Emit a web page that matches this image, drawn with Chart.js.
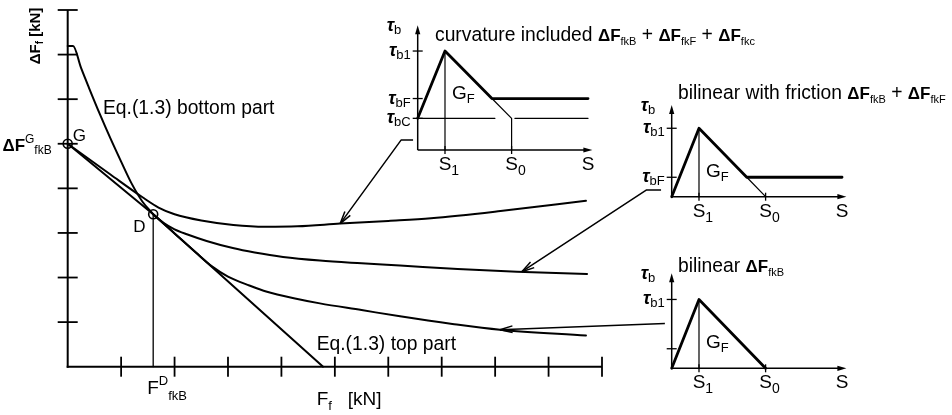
<!DOCTYPE html>
<html>
<head>
<meta charset="utf-8">
<script src="https://cdn.jsdelivr.net/npm/chart.js@4.4.1/dist/chart.umd.min.js"></script>
<style>
  html, body { margin: 0; background: #fff; }
  #wrap { position: relative; width: 952px; height: 415px; }
  canvas { position: absolute; left: 0; top: 0; }
</style>
</head>
<body>
<div id="wrap">
  <canvas id="main" width="952" height="415"></canvas>
  <canvas id="inCurv" width="952" height="415"></canvas>
  <canvas id="inFric" width="952" height="415"></canvas>
  <canvas id="inBilin" width="952" height="415"></canvas>
</div>
<script>
// ---- main diagram: pull-out force increment vs. force ----
const fTicks  = [1, 2, 3, 4, 5, 6, 7, 8, 9, 10];
const dfTicks = [1, 2, 3, 4, 5, 6, 7, 8];

// Eq.(1.3) bottom part
const eqBottomF  = [0, 0.1, 0.25, 0.4, 0.6, 0.8, 1.0, 1.2, 1.4, 1.6];
const eqBottomDF = [7.19, 7.19, 6.7, 6.25, 5.67, 5.12, 4.6, 4.1, 3.7, 3.42];
// Eq.(1.3) top part
const eqTopF  = [0, 1.6, 4.78];
const eqTopDF = [5.0, 3.42, 0];
// curvature included
const curvF  = [0, 0.8, 1.4, 1.7, 2.0, 2.5, 3.1, 3.7, 4.3, 5.1, 6.0, 6.8, 8.1, 9.7];
const curvDF = [5.0, 4.31, 3.8, 3.57, 3.42, 3.28, 3.18, 3.14, 3.15, 3.21, 3.27, 3.33, 3.49, 3.72];
// bilinear with friction
const fricF  = [1.6, 1.8, 2.0, 2.23, 2.6, 3.09, 3.5, 4.03, 4.72, 5.5, 6.22, 7.3, 8.41, 9.72];
const fricDF = [3.42, 3.22, 3.08, 2.97, 2.82, 2.66, 2.56, 2.46, 2.38, 2.32, 2.27, 2.19, 2.13, 2.08];
// bilinear
const bilinF  = [1.6, 2.0, 2.4, 2.7, 3.0, 3.4, 3.73, 4.3, 4.72, 5.5, 6.22, 7.2, 8.09, 9.7];
const bilinDF = [3.42, 2.99, 2.56, 2.25, 2.02, 1.82, 1.68, 1.52, 1.42, 1.27, 1.13, 0.96, 0.83, 0.70];
// points G and D, drop line from D
const gdF  = [0, 1.6];
const gdDF = [5.0, 3.42];
const dropF  = [1.6, 1.6];
const dropDF = [3.42, 0];

// ---- bond-slip laws (S = slip, Tau = bond stress / tau_b1) ----
const sTicks = [1, 3.44];
const sNames = ['1', '0'];
const sEnd = 6.24;
const s1DropS = [1, 1];
const s1DropTau = [1, 0];

const curvLawS   = [0, 1, 2.72, 6.24];
const curvLawTau = [0.32, 1, 0.52, 0.52];
const curvTailS   = [2.72, 3.44, 3.44];
const curvTailTau = [0.52, 0.32, 0];
const curvResA = [0, 2.83];
const curvResB = [3.56, 6.24];
const curvResTau = [0.32, 0.32];
const curvTauTicks = [1, 0.52, 0.32];
const curvTauNames = ['b1', 'bF', 'bC'];

const fricLawS   = [0, 1, 2.75, 6.24];
const fricLawTau = [0, 1, 0.284, 0.284];
const fricTailS   = [2.75, 3.44];
const fricTailTau = [0.284, 0];
const fricTauTicks = [1, 0.284];
const fricTauNames = ['b1', 'bF'];

const bilinLawS   = [0, 1, 3.44];
const bilinLawTau = [0, 1, 0];
const bilinTauTicks = [1, 0.284];
const bilinTauNames = ['b1', ''];

const INK = '#000';
const FAMILY = '"Liberation Sans", Arial, Helvetica, sans-serif';
const font = (size, w = 'normal', s = 'normal') => `${s} ${w} ${size}px ${FAMILY}`;
const T = (text, size = 19.3, dy = 0, w = 'normal', s = 'normal') => ({ text, f: font(size, w, s), dy });
const dF = (sub) => [T('ΔF', 17, 0, 'bold'), T(sub, 11, 4)];
const tauParts = (sub) => [T('τ', 18, 0, 'bold', 'italic'), T(sub, 13, 3)];
const gfParts = [T('G', 19), T('F', 13, 4)];

const pts = (xs, ys) => xs.map((v, i) => ({ x: v, y: ys[i] }));

function richText(ctx, x, y, parts, align) {
  ctx.save();
  ctx.fillStyle = INK;
  ctx.textAlign = 'left';
  ctx.textBaseline = 'alphabetic';
  let total = 0;
  parts.forEach(p => { ctx.font = p.f; total += ctx.measureText(p.text).width; });
  let cx = align === 'center' ? x - total / 2 : align === 'right' ? x - total : x;
  parts.forEach(p => {
    ctx.font = p.f;
    ctx.fillText(p.text, cx, y + p.dy);
    cx += ctx.measureText(p.text).width;
  });
  ctx.restore();
}

function sLabel(ctx, x, y, sub) {
  ctx.save();
  ctx.font = font(19);
  const w = ctx.measureText('S').width;
  ctx.restore();
  const parts = [T('S', 19)];
  if (sub) parts.push(T(sub, 14, 5));
  richText(ctx, x - w / 2, y, parts);
}

function segment(ctx, x1, y1, x2, y2) {
  ctx.beginPath(); ctx.moveTo(x1, y1); ctx.lineTo(x2, y2); ctx.stroke();
}
function filledArrow(ctx, x, y, ang, len, half) {
  const bx = x - len * Math.cos(ang), by = y - len * Math.sin(ang);
  ctx.beginPath();
  ctx.moveTo(x, y);
  ctx.lineTo(bx + half * Math.sin(ang), by - half * Math.cos(ang));
  ctx.lineTo(bx - half * Math.sin(ang), by + half * Math.cos(ang));
  ctx.closePath();
  ctx.fill();
}
function openArrow(ctx, x, y, ang, len, spread) {
  [-spread, spread].forEach(s => {
    const a = ang + Math.PI + s;
    segment(ctx, x, y, x + len * Math.cos(a), y + len * Math.sin(a));
  });
}

function lineDs(xs, ys, width, smooth) {
  return {
    data: pts(xs, ys), borderColor: INK, borderWidth: width, pointRadius: 0,
    fill: false, clip: false, tension: smooth ? 0.4 : 0,
    cubicInterpolationMode: smooth ? 'monotone' : 'default',
    borderCapStyle: 'round', borderJoinStyle: 'round'
  };
}

const baseOptions = (pad, xMax, yMax) => ({
  responsive: false, animation: false, events: [], devicePixelRatio: 1,
  layout: { padding: pad },
  scales: {
    x: { type: 'linear', min: 0, max: xMax, display: false },
    y: { type: 'linear', min: 0, max: yMax, display: false }
  },
  plugins: { legend: { display: false }, tooltip: { enabled: false } }
});

// ---- inset charts ----
const insetSpecs = [
  {
    canvas: 'inCurv', pad: { left: 417.7, right: 359.6, top: 25.3, bottom: 265 }, sMax: 6.4, tauMax: 1.26,
    thick: [[curvLawS, curvLawTau]],
    thin: [[curvTailS, curvTailTau], [s1DropS, s1DropTau], [curvResA, curvResTau], [curvResB, curvResTau]],
    tauTicks: curvTauTicks, tauNames: curvTauNames, gfTau: 0.5,
    title: [T('curvature included '), ...dF('fkB'), T(' + '), ...dF('fkF'), T(' + '), ...dF('fkc')],
    titleDx: 17.3, titleDy: 15.5
  },
  {
    canvas: 'inFric', pad: { left: 671.7, right: 105.6, top: 105, bottom: 218.3 }, sMax: 6.4, tauMax: 1.34,
    thick: [[fricLawS, fricLawTau]],
    thin: [[fricTailS, fricTailTau], [s1DropS, s1DropTau]],
    tauTicks: fricTauTicks, tauNames: fricTauNames, gfTau: 0.263,
    title: [T('bilinear with friction '), ...dF('fkB'), T(' + '), ...dF('fkF')],
    titleDx: 6.3, titleDy: -6.5
  },
  {
    canvas: 'inBilin', pad: { left: 671.7, right: 105.6, top: 273.3, bottom: 46.7 }, sMax: 6.4, tauMax: 1.38,
    thick: [[bilinLawS, bilinLawTau]],
    thin: [[s1DropS, s1DropTau]],
    tauTicks: bilinTauTicks, tauNames: bilinTauNames, gfTau: 0.26,
    title: [T('bilinear '), ...dF('fkB')],
    titleDx: 6.3, titleDy: -1.5
  }
];

function insetDecor(spec) {
  return {
    id: 'insetDecor',
    beforeDatasetsDraw(chart) {
      const { ctx, scales: { x, y } } = chart;
      const ox = x.getPixelForValue(0), oy = y.getPixelForValue(0);
      const top = y.getPixelForValue(spec.tauMax), right = x.getPixelForValue(spec.sMax);
      ctx.save();
      ctx.strokeStyle = INK; ctx.fillStyle = INK; ctx.lineWidth = 1.5;
      segment(ctx, ox, oy, ox, top + 6);
      filledArrow(ctx, ox, top, -Math.PI / 2, 9, 2.6);
      segment(ctx, ox, oy, right - 6, oy);
      filledArrow(ctx, right, oy, 0, 9, 2.6);
      ctx.lineWidth = 1.3;
      spec.tauTicks.forEach(t => { const py = y.getPixelForValue(t); segment(ctx, ox - 5, py, ox + 5, py); });
      sTicks.forEach(s => { const px = x.getPixelForValue(s); segment(ctx, px, oy - 4, px, oy + 4); });
      ctx.restore();
    },
    afterDatasetsDraw(chart) {
      const { ctx, scales: { x, y } } = chart;
      const ox = x.getPixelForValue(0), oy = y.getPixelForValue(0);
      const top = y.getPixelForValue(spec.tauMax);
      richText(ctx, ox - 31, top + 5.5, tauParts('b'));
      spec.tauTicks.forEach((t, i) => {
        if (spec.tauNames[i]) richText(ctx, ox - 7, y.getPixelForValue(t) + 5, tauParts(spec.tauNames[i]), 'right');
      });
      sTicks.forEach((s, i) => sLabel(ctx, x.getPixelForValue(s), oy + 20, sNames[i]));
      sLabel(ctx, x.getPixelForValue(sEnd), oy + 20, '');
      richText(ctx, x.getPixelForValue(1) + 7, y.getPixelForValue(spec.gfTau) - 2, gfParts);
      richText(ctx, ox + spec.titleDx, top + spec.titleDy, spec.title);
    }
  };
}

const insetCharts = insetSpecs.map(spec => new Chart(document.getElementById(spec.canvas), {
  type: 'line',
  data: {
    datasets: [
      ...spec.thin.map(([s, t]) => lineDs(s, t, 1.2, false)),
      ...spec.thick.map(([s, t]) => lineDs(s, t, 2.8, false))
    ]
  },
  options: baseOptions(spec.pad, spec.sMax, spec.tauMax),
  plugins: [insetDecor(spec)]
}));

// leader arrows: start in slip-law units of an inset, tip on a main curve
const leaders = [
  { inset: 0, from: [[-0.17, 0.10], [-0.61, 0.10]], to: [5.1, 3.21] },
  { inset: 1, from: [[-0.39, 0.098], [-0.92, 0.098]], to: [8.5, 2.13] },
  { inset: 2, from: [[-0.25, 0.65]], to: [8.09, 0.83] }
];

const mainDecor = {
  id: 'mainDecor',
  beforeDatasetsDraw(chart) {
    const { ctx, scales: { x, y } } = chart;
    const x0 = x.getPixelForValue(0), y0 = y.getPixelForValue(0);
    ctx.save();
    ctx.strokeStyle = INK; ctx.lineWidth = 2;
    segment(ctx, x0, y.getPixelForValue(dfTicks[dfTicks.length - 1]), x0, y0 + 1);
    segment(ctx, x0 - 1, y0, x.getPixelForValue(fTicks[fTicks.length - 1]), y0);
    ctx.lineWidth = 1.8;
    dfTicks.forEach(v => { const py = y.getPixelForValue(v); segment(ctx, x0 - 10, py, x0 + 10, py); });
    fTicks.forEach(v => { const px = x.getPixelForValue(v); segment(ctx, px, y0 - 10, px, y0 + 10); });
    ctx.restore();
  },
  afterDatasetsDraw(chart) {
    const { ctx, scales: { x, y } } = chart;
    const x0 = x.getPixelForValue(0), y0 = y.getPixelForValue(0);
    const gx = x.getPixelForValue(gdF[0]), gy = y.getPixelForValue(gdDF[0]);
    const dx = x.getPixelForValue(gdF[1]), dy = y.getPixelForValue(gdDF[1]);

    // axis titles
    ctx.save();
    ctx.translate(40, 36);
    ctx.rotate(-Math.PI / 2);
    richText(ctx, 0, 0, [T('ΔF', 15, 0, 'bold'), T('f', 10, 3, 'bold'), T(' [kN]', 15, 0, 'bold')], 'center');
    ctx.restore();
    richText(ctx, x.getPixelForValue(4.66), y0 + 38.3, [T('F', 19), T('f', 13, 5), T('   [kN]', 19)]);

    // point labels
    richText(ctx, gx + 5, gy - 3, [T('G', 17)]);
    richText(ctx, dx - 20, dy + 18, [T('D', 17)]);
    richText(ctx, x0 - 16, gy + 7.7, [T('ΔF', 17, 0, 'bold'), T('G', 12, -8), T('fkB', 12, 3)], 'right');
    richText(ctx, dx - 6, y0 + 27.3, [T('F', 19), T('D', 13, -9), T('fkB', 13, 6)]);

    // curve labels
    richText(ctx, x.getPixelForValue(0.66), y.getPixelForValue(5.67), [T('Eq.(1.3) bottom part')]);
    richText(ctx, x.getPixelForValue(4.66), y.getPixelForValue(0.375), [T('Eq.(1.3) top part')]);

    // leaders from the slip laws to their curves
    ctx.save();
    ctx.strokeStyle = INK; ctx.lineWidth = 1.5; ctx.lineJoin = 'round';
    leaders.forEach(l => {
      const ic = insetCharts[l.inset];
      const path = l.from.map(([s, t]) => [ic.scales.x.getPixelForValue(s), ic.scales.y.getPixelForValue(t)]);
      const tip = [x.getPixelForValue(l.to[0]), y.getPixelForValue(l.to[1])];
      path.push(tip);
      ctx.beginPath();
      path.forEach((p, i) => i ? ctx.lineTo(p[0], p[1]) : ctx.moveTo(p[0], p[1]));
      ctx.stroke();
      const prev = path[path.length - 2];
      const ang = Math.atan2(tip[1] - prev[1], tip[0] - prev[0]);
      openArrow(ctx, tip[0], tip[1], ang, 13, 0.26);
    });
    ctx.restore();
  }
};

new Chart(document.getElementById('main'), {
  type: 'line',
  data: {
    datasets: [
      lineDs(dropF, dropDF, 1.3, false),
      lineDs(eqBottomF, eqBottomDF, 2, true),
      lineDs(eqTopF, eqTopDF, 2, false),
      lineDs(curvF, curvDF, 2, true),
      lineDs(fricF, fricDF, 2, true),
      lineDs(bilinF, bilinDF, 2, true),
      {
        data: pts(gdF, gdDF), showLine: false, clip: false,
        pointRadius: 4.5, pointBorderWidth: 1.6,
        pointBackgroundColor: 'rgba(255,255,255,0)', pointBorderColor: INK
      }
    ]
  },
  options: baseOptions({ left: 67.7, right: 350, top: 10, bottom: 48.3 }, 10, 8),
  plugins: [mainDecor]
});
</script>
</body>
</html>
